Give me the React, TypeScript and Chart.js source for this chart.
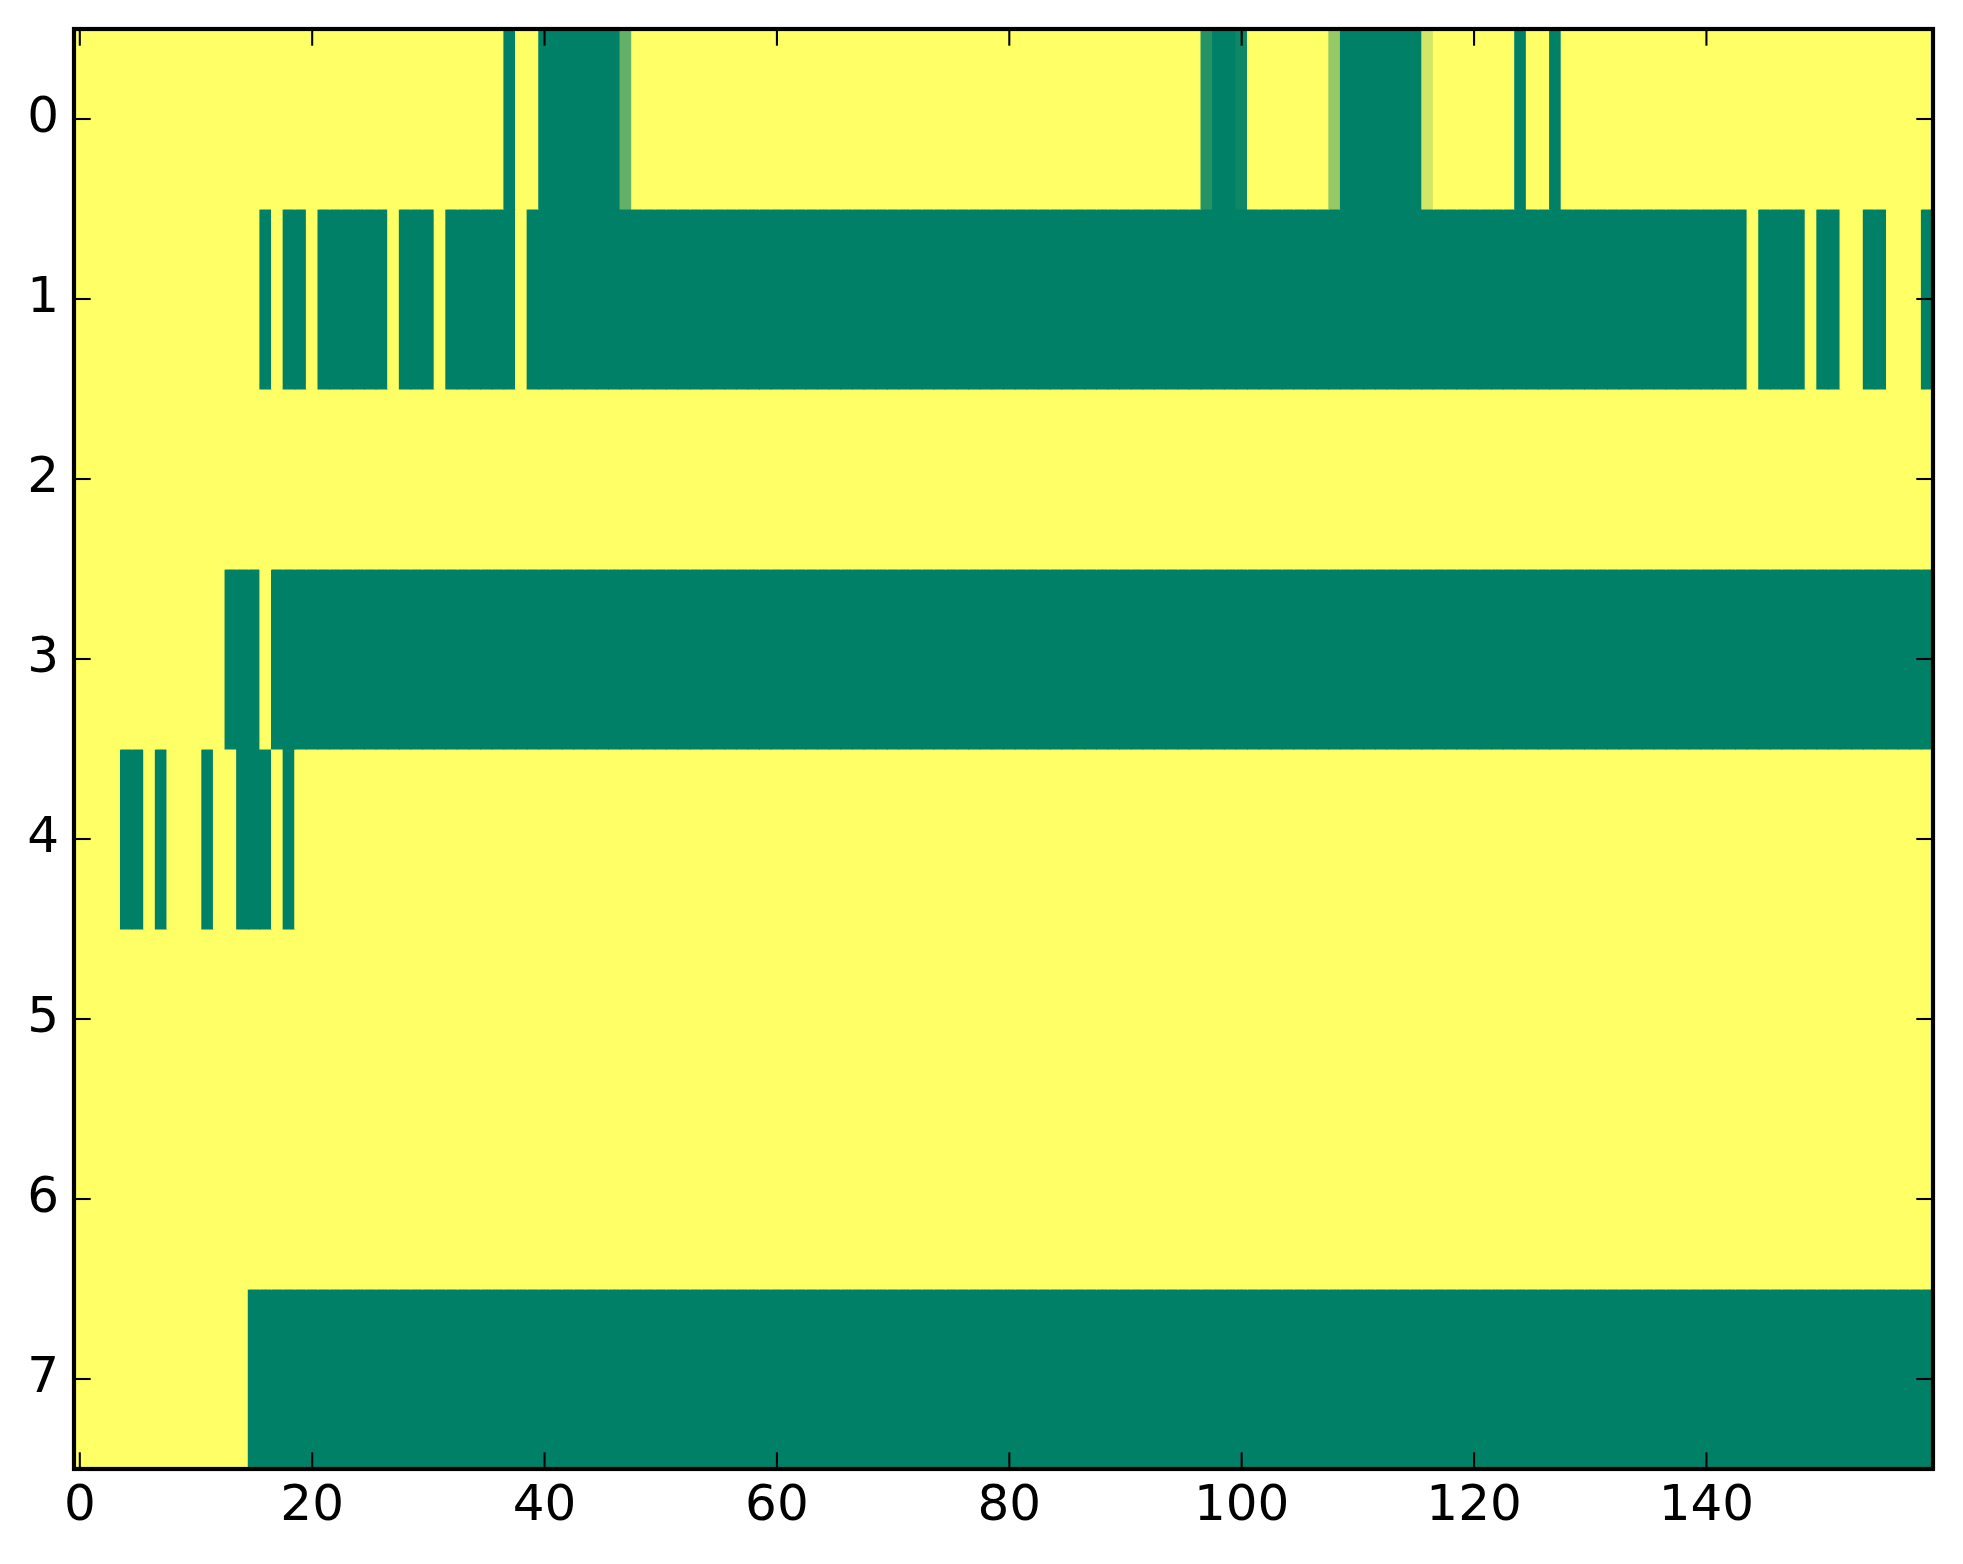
import React, { useEffect, useRef } from 'react';
import { Chart, registerables } from 'chart.js';

Chart.register(...registerables);

// ---- data ----
const nCols = 160;
const rowLabels = [0, 1, 2, 3, 4, 5, 6, 7];
const xTickValues = [0, 20, 40, 60, 80, 100, 120, 140];
const yTickValues = [0, 1, 2, 3, 4, 5, 6, 7];
const baseValue = 1; // cells not listed below hold this value

// [firstCol, lastCol, value]
const row0Runs = [
  [37, 37, 0], [40, 46, 0], [47, 47, 0.39], [97, 97, 0.15], [98, 99, 0],
  [100, 100, 0.06], [108, 108, 0.58], [109, 115, 0], [116, 116, 0.82],
  [124, 124, 0], [127, 127, 0],
];
const row1Runs = [
  [16, 16, 0], [18, 19, 0], [21, 26, 0], [28, 30, 0], [32, 37, 0],
  [39, 143, 0], [145, 148, 0], [150, 151, 0], [154, 155, 0], [159, 159, 0],
];
const row2Runs: number[][] = [];
const row3Runs = [[13, 15, 0], [17, 159, 0]];
const row4Runs = [[4, 5, 0], [7, 7, 0], [11, 11, 0], [14, 16, 0], [18, 18, 0]];
const row5Runs: number[][] = [];
const row6Runs: number[][] = [];
const row7Runs = [[15, 159, 0]];

const rowRuns = [row0Runs, row1Runs, row2Runs, row3Runs, row4Runs, row5Runs, row6Runs, row7Runs];

function expandRow(runs: number[][]): number[] {
  const vals = new Array(nCols).fill(baseValue);
  runs.forEach(([a, b, v]) => {
    for (let c = a; c <= b; c++) vals[c] = v;
  });
  return vals;
}

// matplotlib "summer" colormap
function summer(v: number): string {
  const r = Math.round(255 * v);
  const g = Math.round(255 * (0.5 + 0.5 * v));
  return `rgb(${r},${g},102)`;
}

const FONT = { family: '"DejaVu Sans", sans-serif', size: 50 };
const TICK_LEN = 16.7;
const TICK_W = 2.08;
const SPINE_W = 4.17;

const framePlugin = {
  id: 'frame',
  afterDraw(chart: any) {
    const { ctx, chartArea } = chart;
    const { left, right, top, bottom } = chartArea;
    const xs = chart.scales.x;
    const ys = chart.scales.y;
    ctx.save();
    ctx.strokeStyle = '#000';
    ctx.lineWidth = TICK_W;
    const line = (x1: number, y1: number, x2: number, y2: number) => {
      ctx.beginPath();
      ctx.moveTo(x1, y1);
      ctx.lineTo(x2, y2);
      ctx.stroke();
    };
    xTickValues.forEach((v) => {
      const px = xs.getPixelForValue(v);
      line(px, bottom, px, bottom - TICK_LEN);
      line(px, top, px, top + TICK_LEN);
    });
    yTickValues.forEach((v) => {
      const py = ys.getPixelForValue(v);
      line(left, py, left + TICK_LEN, py);
      line(right, py, right - TICK_LEN, py);
    });
    ctx.lineWidth = SPINE_W;
    ctx.strokeRect(left, top, right - left, bottom - top);
    ctx.restore();
  },
};

export default function App() {
  const canvasRef = useRef<HTMLCanvasElement | null>(null);

  useEffect(() => {
    if (!canvasRef.current) return;
    const datasets = rowLabels.map((r, i) => {
      const vals = expandRow(rowRuns[i]);
      return {
        label: `row ${r}`,
        data: vals.map((_, c) => ({ x: [c - 0.5, c + 0.5], y: r })),
        backgroundColor: vals.map(summer),
        borderWidth: 0,
        grouped: false,
        categoryPercentage: 1,
        barPercentage: 1,
        inflateAmount: 0.5,
      };
    });

    const chart = new Chart(canvasRef.current, {
      type: 'bar',
      data: { datasets: datasets as any },
      options: {
        indexAxis: 'y',
        animation: false,
        responsive: false,
        events: [],
        layout: { padding: { left: 0, top: 29, right: 30, bottom: 0 } },
        plugins: { legend: { display: false }, tooltip: { enabled: false } },
        scales: {
          x: {
            type: 'linear',
            position: 'bottom',
            min: -0.5,
            max: 159.5,
            offset: false,
            grid: { display: false, drawTicks: false, offset: false },
            border: { display: false },
            ticks: {
              font: FONT,
              color: '#000',
              padding: 8,
              autoSkip: false,
              maxRotation: 0,
              callback: (v: any) => String(v),
            },
            afterBuildTicks: (s: any) => {
              s.ticks = xTickValues.map((v) => ({ value: v }));
            },
            afterFit: (s: any) => {
              s.height = 95;
              s.paddingLeft = 0;
              s.paddingRight = 0;
            },
          },
          y: {
            type: 'linear',
            position: 'left',
            reverse: true,
            min: -0.5,
            max: 7.5,
            offset: false,
            grid: { display: false, drawTicks: false, offset: false },
            border: { display: false },
            ticks: {
              font: FONT,
              color: '#000',
              padding: 15,
              autoSkip: false,
              callback: (v: any) => String(v),
            },
            afterBuildTicks: (s: any) => {
              s.ticks = yTickValues.map((v) => ({ value: v }));
            },
            afterFit: (s: any) => {
              s.width = 74;
              s.paddingTop = 0;
              s.paddingBottom = 0;
            },
          },
        },
      } as any,
      plugins: [framePlugin],
    });
    return () => chart.destroy();
  }, []);

  return (
    <div style={{ position: 'absolute', left: 0, top: 0, width: 1963, height: 1564, background: '#fff' }}>
      <canvas ref={canvasRef} width={1963} height={1564} style={{ display: 'block' }} />
    </div>
  );
}
